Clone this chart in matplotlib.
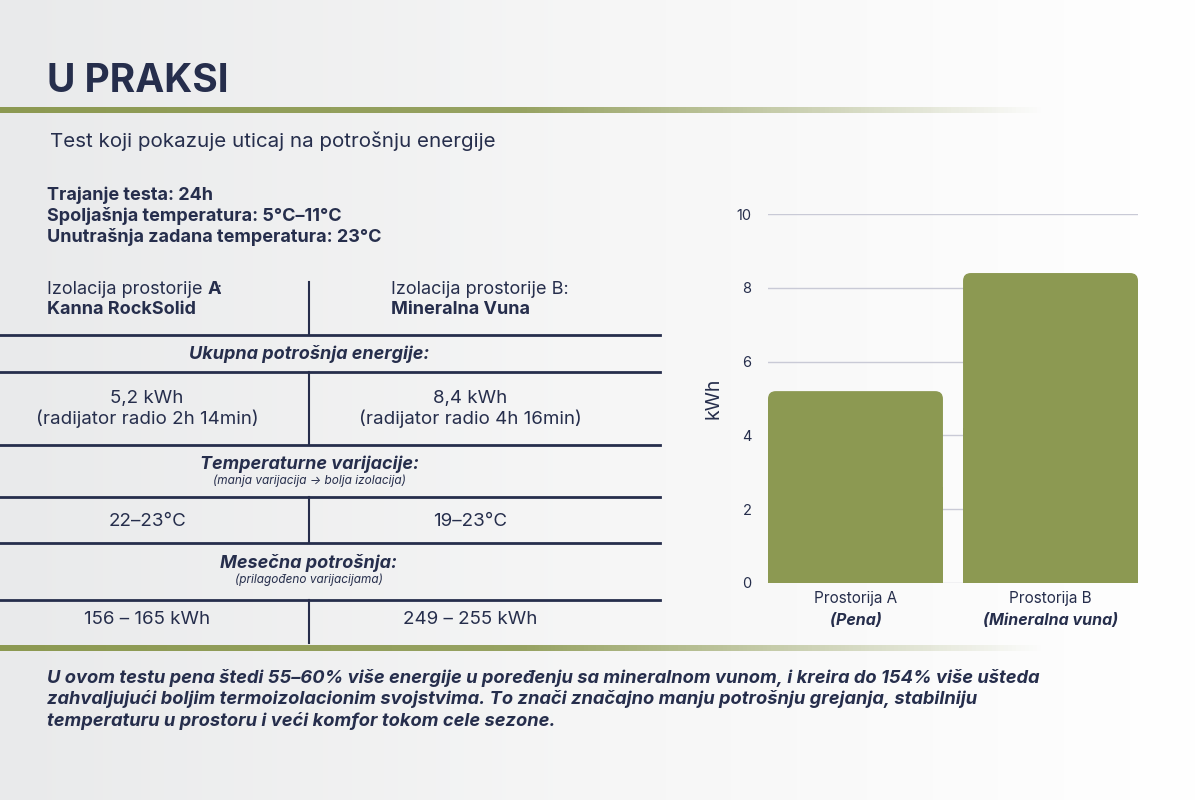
import numpy as np
import matplotlib.pyplot as plt
from matplotlib.patches import FancyBboxPatch, Rectangle
from matplotlib.colors import LinearSegmentedColormap

plt.rcParams['font.family'] = 'Inter'

NAVY = '#262e4c'
GREEN = '#8c9952'

# chart data
rooms = ['Prostorija A', 'Prostorija B']
room_notes = ['(Pena)', '(Mineralna vuna)']
energy_kwh = [5.2, 8.4]
y_ticks = [0, 2, 4, 6, 8, 10]

# table data
test_info = ['Trajanje testa: 24h',
             'Spoljašnja temperatura: 5°C–11°C',
             'Unutrašnja zadana temperatura: 23°C']
total_energy = ['5,2 kWh', '8,4 kWh']
radiator_time = ['(radijator radio 2h 14min)', '(radijator radio 4h 16min)']
temp_range = ['22–23°C', '19–23°C']
monthly = ['156 – 165 kWh', '249 – 255 kWh']
summary = ['U ovom testu pena štedi 55–60% više energije u poređenju sa mineralnom vunom, i kreira do 154% više ušteda',
           'zahvaljujući boljim termoizolacionim svojstvima. To znači značajno manju potrošnju grejanja, stabilniju',
           'temperaturu u prostoru i veći komfor tokom cele sezone.']

fig = plt.figure(figsize=(12, 8), dpi=100)

# background gradient
bg = fig.add_axes([0, 0, 1, 1])
bg.axis('off')
grad = np.linspace(0, 1, 256).reshape(1, -1)
bg_cmap = LinearSegmentedColormap.from_list('bg', ['#e9eaeb', '#f6f6f6', '#ffffff'])
bg.imshow(grad, cmap=bg_cmap, extent=[0, 1200, 800, 0], aspect='auto', zorder=0)

# green fading rules
rule_cmap = LinearSegmentedColormap.from_list('rule', [(0.55, 0.6, 0.32, 1), (0.55, 0.6, 0.32, 0.9), (0.55, 0.6, 0.32, 0)])
for y0 in (107, 645):
    bg.imshow(grad, cmap=rule_cmap, extent=[0, 1045, y0 + 6, y0], aspect='auto', zorder=1)
bg.set_xlim(0, 1200)
bg.set_ylim(800, 0)

bg.text(47, 82, 'U PRAKSI', fontsize=28, fontweight='bold', color=NAVY, va='center')
bg.text(50, 141, 'Test koji pokazuje uticaj na potrošnju energije', fontsize=14.8, color=NAVY, va='center')
for i, line in enumerate(test_info):
    bg.text(47, 195 + i * 21, line, fontsize=13, fontweight='bold', color=NAVY, va='center')

# table
t = bg.text(47, 290, 'Izolacija prostorije ', fontsize=13, color=NAVY, va='center')
fig.canvas.draw()
ext = t.get_window_extent()
bg.annotate('A', xy=(ext.x1, 0), xycoords=('figure pixels', 'data'), xytext=(0, 290),
            textcoords=('offset points', 'data'), fontsize=13, fontweight='bold', color=NAVY, va='center')
a_w = bg.texts[-1].get_window_extent().width if False else 9.5
bg.annotate(':', xy=(ext.x1 + a_w, 0), xycoords=('figure pixels', 'data'), xytext=(0, 290),
            textcoords=('offset points', 'data'), fontsize=13, color=NAVY, va='center')
bg.text(47, 310, 'Kanna RockSolid', fontsize=13, fontweight='bold', color=NAVY, va='center')
bg.text(391, 290, 'Izolacija prostorije B:', fontsize=13, color=NAVY, va='center')
bg.text(391, 310, 'Mineralna Vuna', fontsize=13, fontweight='bold', color=NAVY, va='center')

for y in (335, 372, 445, 497, 543, 600):
    bg.plot([0, 660], [y, y], color=NAVY, lw=2, zorder=2)
for y1, y2 in ((282, 335), (372, 445), (497, 543), (600, 643)):
    bg.plot([309, 309], [y1, y2], color=NAVY, lw=1.5, zorder=2)

head = dict(fontsize=13, fontweight='bold', style='italic', color=NAVY, ha='center', va='center')
note = dict(fontsize=8.5, style='italic', color=NAVY, ha='center', va='center')
cell = dict(fontsize=13.5, color=NAVY, ha='center', va='center')
bg.text(309, 354, 'Ukupna potrošnja energije:', **head)
bg.text(309, 464, 'Temperaturne varijacije:', **head)
bg.text(309, 481, '(manja varijacija → bolja izolacija)', **note)
bg.text(309, 563, 'Mesečna potrošnja:', **head)
bg.text(309, 580, '(prilagođeno varijacijama)', **note)
for cx, e, r, tr, m in zip((147, 470), total_energy, radiator_time, temp_range, monthly):
    bg.text(cx, 398, e, **cell)
    bg.text(cx, 419, r, **cell)
    bg.text(cx, 521, tr, **cell)
    bg.text(cx, 619, m, **cell)

for i, line in enumerate(summary):
    bg.text(47, 678 + i * 21.5, line, fontsize=13.2, fontweight='bold', style='italic', color=NAVY, va='center')

# bar chart
ax = fig.add_axes([768 / 1200, 1 - 583 / 800, 370 / 1200, 369 / 800])
ax.patch.set_alpha(0)
w = 0.897
ax.set_xlim(-w / 2, 1 + w / 2)
ax.set_ylim(0, 10)
ax.set_yticks(y_ticks)
ax.set_yticklabels([str(v) for v in y_ticks], fontsize=10.5, color=NAVY)
ax.tick_params(axis='y', length=0, pad=12)
ax.set_xticks([])
for s in ax.spines.values():
    s.set_visible(False)
ax.grid(axis='y', color='#c9cad6', lw=1)
ax.set_axisbelow(True)
ax.set_ylabel('kWh', fontsize=14, color=NAVY, labelpad=10)

aspect = (10 / 369) / ((1 + w) / 370)
for i, v in enumerate(energy_kwh):
    ax.add_patch(FancyBboxPatch((i - w / 2, 0), w, v,
                                boxstyle='round,pad=0,rounding_size=0.04',
                                mutation_aspect=aspect, fc=GREEN, ec='none', zorder=3))
    ax.add_patch(Rectangle((i - w / 2, 0), w, v / 2, fc=GREEN, ec='none', zorder=3))
    ax.text(i, -0.22, rooms[i], fontsize=11, color=NAVY, ha='center', va='top')
    ax.text(i, -0.8, room_notes[i], fontsize=11.5, fontweight='bold',
            style='italic', color=NAVY, ha='center', va='top')

fig.savefig('out.png', dpi=100)
